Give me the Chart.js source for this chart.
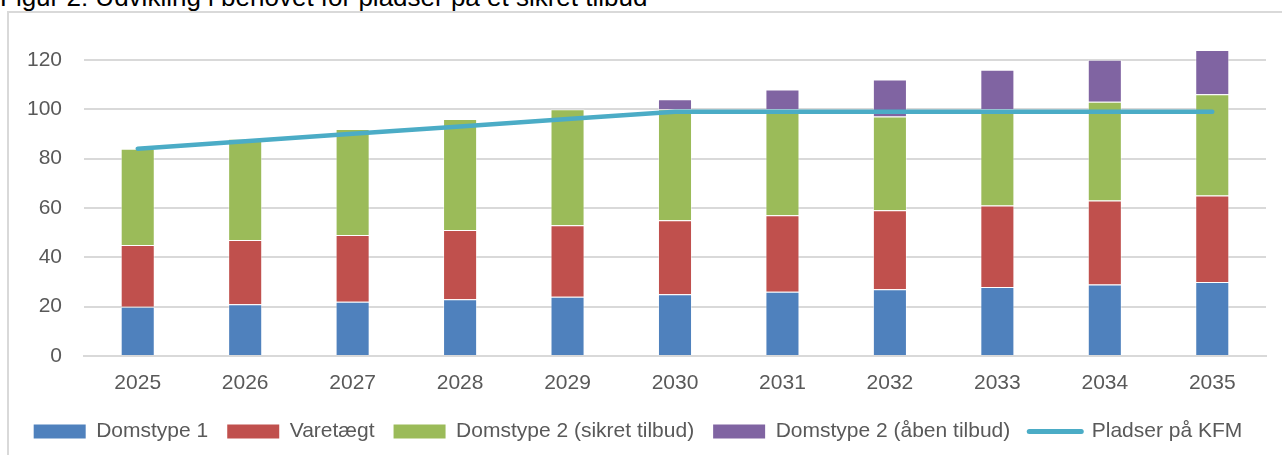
<!DOCTYPE html>
<html>
<head>
<meta charset="utf-8">
<script src="https://cdn.jsdelivr.net/npm/chart.js@4.4.0/dist/chart.umd.min.js"></script>
<style>
  html, body { margin: 0; padding: 0; background: #fff; overflow: hidden; }
  #title { position: absolute; left: 0; top: -16px; font: 26px/1 "Liberation Sans", sans-serif; color: #000; white-space: nowrap; }
  #frame { position: absolute; left: 7px; top: 11px; width: 1290px; height: 460px; border: 2px solid #d9d9d9; box-sizing: border-box; }
  #wrap { position: absolute; left: 0; top: 0; width: 1282px; height: 455px; }
</style>
</head>
<body>
<div id="title">Figur 2: Udvikling i behovet for pladser på et sikret tilbud</div>
<div id="frame"></div>
<div id="wrap"><canvas id="chart"></canvas></div>
<script>
const years = ["2025", "2026", "2027", "2028", "2029", "2030", "2031", "2032", "2033", "2034", "2035"];
const domstype1 = [20, 21, 22, 23, 24, 25, 26, 27, 28, 29, 30];
const varetaegt = [25, 26, 27, 28, 29, 30, 31, 32, 33, 34, 35];
const sikret = [39, 41, 43, 45, 47, 45, 43, 38, 39, 40, 41];
const aaben = [0, 0, 0, 0, 0, 4, 8, 15, 16, 17, 18];
const pladserKFM = [84, 87, 90, 93, 96, 99, 99, 99, 99, 99, 99];
const yTicks = [0, 20, 40, 60, 80, 100, 120];

const txt = "#595959";
const font = { family: "Liberation Sans", size: 21 };

function barSet(label, data, color) {
  return {
    type: "bar", label: label, data: data,
    backgroundColor: color, borderColor: "rgba(255,255,255,0.45)", borderWidth: 1,
    barPercentage: 0.317, categoryPercentage: 1, stack: "s", order: 2
  };
}

new Chart("chart", {
  data: {
    labels: years,
    datasets: [
      barSet("Domstype 1", domstype1, "#4F81BD"),
      barSet("Varetægt", varetaegt, "#C0504D"),
      barSet("Domstype 2 (sikret tilbud)", sikret, "#9BBB59"),
      barSet("Domstype 2 (åben tilbud)", aaben, "#8064A2"),
      {
        type: "line", label: "Pladser på KFM", data: pladserKFM,
        borderColor: "#4BACC6", backgroundColor: "#4BACC6", borderWidth: 4.5,
        borderCapStyle: "round", pointRadius: 0, tension: 0, order: 1
      }
    ]
  },
  options: {
    responsive: true,
    maintainAspectRatio: false,
    animation: false,
    layout: { padding: { left: 10, right: 16, top: 45, bottom: 3 } },
    plugins: {
      tooltip: { enabled: false },
      legend: {
        position: "bottom",
        labels: {
          color: txt, font: font, boxHeight: 14, padding: 19,
          usePointStyle: true, pointStyleWidth: 52,
          sort: (a, b) => a.datasetIndex - b.datasetIndex,
          generateLabels: (chart) => {
            const items = Chart.defaults.plugins.legend.labels.generateLabels(chart);
            items.forEach((it) => {
              const ds = chart.data.datasets[it.datasetIndex];
              if (ds.type === "line") {
                it.pointStyle = "line";
                it.lineWidth = 5;
                it.lineCap = "round";
                it.strokeStyle = "#4BACC6";
              } else {
                it.pointStyle = "rect";
                it.lineWidth = 0;
              }
            });
            return items;
          }
        }
      }
    },
    scales: {
      x: {
        stacked: true,
        grid: { display: false },
        border: { display: true, color: "#d9d9d9", width: 2 },
        ticks: { color: txt, font: font, padding: 7 },
        afterFit: (s) => { s.height = 46; }
      },
      y: {
        stacked: true,
        min: 0, max: 126,
        afterBuildTicks: (s) => { s.ticks = yTicks.map((v) => ({ value: v })); },
        grid: { color: "#d9d9d9", lineWidth: 2, drawTicks: false },
        border: { display: false },
        ticks: { color: txt, font: font, padding: 22 },
        afterFit: (s) => { s.width = 74; }
      }
    }
  }
});
</script>
</body>
</html>
